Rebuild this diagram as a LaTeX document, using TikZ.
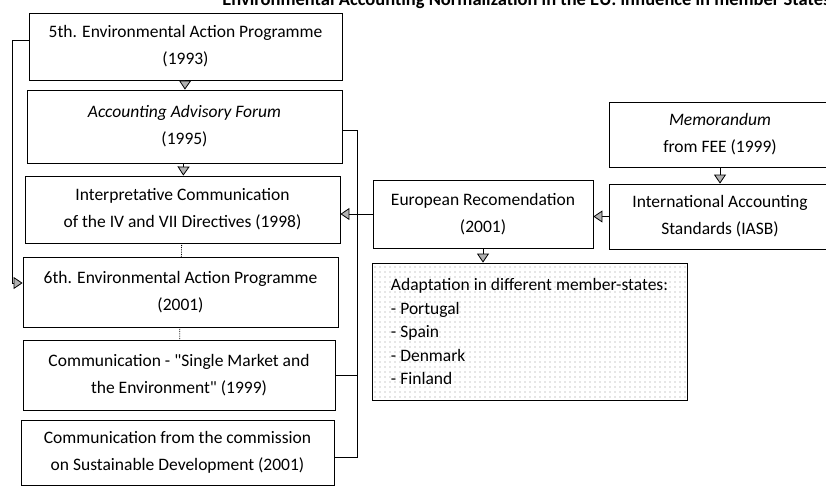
\documentclass[tikz,border=0pt]{standalone}
\usepackage{fontspec}
\setmainfont{Carlito}[Ligatures=TeXOff]
\usetikzlibrary{arrows.meta, patterns.meta}

\begin{document}
\begin{tikzpicture}[x=1pt, y=-1pt,
  box/.style={draw, line width=0.8pt, align=center, font=\fontsize{17.5}{27}\selectfont},
  arr/.style={-{Triangle[width=12pt,length=9pt,fill=gray!60]}, line width=0.8pt},
  link/.style={line width=0.8pt}]

\useasboundingbox (0,0) rectangle (826,487);
\clip (0,0) rectangle (826,487);

\node[anchor=base east, font=\fontsize{18.5}{20}\selectfont\bfseries] (title) at (834,6)
  {Environmental Accounting Normalization in the EU: influence in member States};

% left column
\foreach \n/\x/\y/\w/\h/\t in {
  b1/185.5/46.5/313/67/{5th. Environmental Action Programme\\(1993)},
  b2/184.5/126.5/315/73/{\textit{Accounting Advisory Forum}\\(1995)},
  b3/182.5/209.5/315/67/{Interpretative Communication\\of the IV and VII Directives (1998)},
  b4/180.5/292/315/70/{6th. Environmental Action Programme\\(2001)},
  b5/179/375/312/70/{Communication - "Single Market and\\the Environment" (1999)},
  b6/177.5/452.5/313/65/{Communication from the commission\\on Sustainable Development (2001)}}
  \node[box, minimum width=\w, minimum height=\h] (\n) at (\x,\y) {\t};

% right side
\node[box, minimum width=222, minimum height=65] (memo) at (720,134.5) {\textit{Memorandum}\\from FEE (1999)};
\node[box, minimum width=222, minimum height=65] (ias) at (720,216.5) {International Accounting\\Standards (IASB)};
\node[box, minimum width=220, minimum height=68] (eu) at (483,214) {European Recomendation\\(2001)};
\node[box, align=left, minimum width=315, minimum height=137,
  font=\fontsize{17.5}{23.5}\selectfont,
  pattern={Dots[distance=5pt,radius=0.55pt]}, pattern color=gray!85] (ad) at (529.5,331.5)
  {Adaptation in different member-states:\\- Portugal\\- Spain\\- Denmark\\- Finland};

\draw[arr] (b1) -- (b2);
\draw[arr] (b2) -- (b3);
\draw[link, densely dotted] (b3) -- (b4);
\draw[link, densely dotted] (b4) -- (b5);

\draw[arr] ([yshift=6.5pt]b1.west) -- ++(-16,0) |- ([yshift=9pt]b4.west);
\draw[link] ([yshift=-3.5pt]b2.east) -- ++(15,0) coordinate (rb) |- ([yshift=-4.5pt]b6.east);
\draw[link] (b5.east) -- (b5.east -| rb);

\draw[arr] (memo) -- (ias);
\draw[arr] (ias.west) -- (ias.west -| eu.east);
\draw[arr] (eu.west) -- (eu.west -| b3.east);
\draw[arr] (eu.south) -- (eu.south |- ad.north);
\end{tikzpicture}
\end{document}
